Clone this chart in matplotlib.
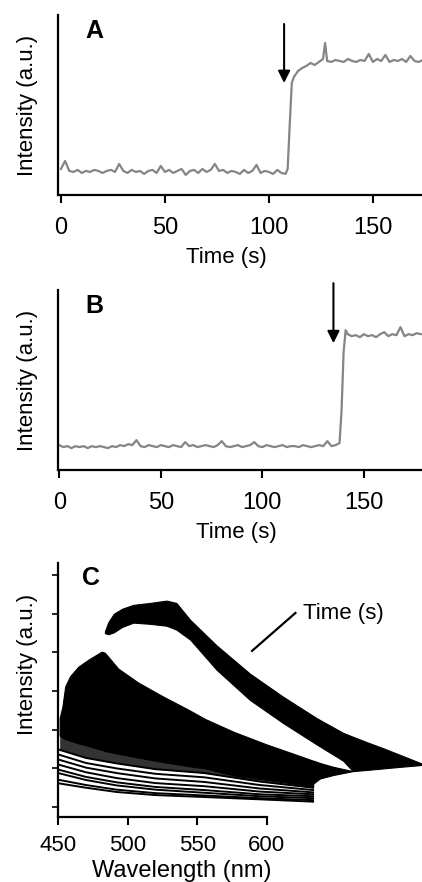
import numpy as np
import matplotlib
matplotlib.use("Agg")
import matplotlib.pyplot as plt

plt.rcParams['font.family'] = ['Liberation Sans', 'DejaVu Sans']

# ---------------------------------------------------------------------------
# Panel A: intensity trace (a.u. = px above the axis)
# ---------------------------------------------------------------------------
time_a = [0, 2, 4, 6, 8, 10, 12, 14, 16, 18, 20, 22, 24, 26, 28, 30, 32, 34,
          36, 38, 40, 42, 44, 46, 48, 50, 52, 54, 56, 58, 60, 62, 64, 66, 68,
          70, 72, 74, 76, 78, 80, 82, 84, 86, 88, 90, 92, 94, 96, 98, 100,
          102, 104, 106, 108, 109, 110, 111, 112, 114, 116, 118, 120, 122,
          124, 126, 127, 128, 130, 132, 134, 136, 138, 140, 142, 144, 146,
          148, 150, 152, 154, 156, 158, 160, 162, 164, 166, 168, 170, 172, 174]
int_a = [26, 34, 24, 23, 25, 22, 24, 23, 25, 24, 22, 24, 25, 23, 31, 24, 22,
         25, 23, 24, 21, 24, 25, 22, 29, 23, 25, 22, 24, 26, 20, 24, 25, 22,
         26, 23, 25, 31, 24, 25, 22, 24, 23, 21, 25, 22, 24, 30, 22, 24, 23,
         21, 25, 22, 21, 26, 70, 112, 118, 124, 127, 129, 132, 130, 133, 136,
         152, 134, 133, 135, 134, 133, 136, 134, 133, 135, 134, 141, 133, 136,
         134, 140, 133, 135, 134, 136, 133, 139, 134, 133, 135]

# Panel B
time_b = [0, 2, 4, 6, 8, 10, 12, 14, 16, 18, 20, 22, 24, 26, 28, 30, 32, 34,
          36, 38, 40, 42, 44, 46, 48, 50, 52, 54, 56, 58, 60, 62, 64, 66, 68,
          70, 72, 74, 76, 78, 80, 82, 84, 86, 88, 90, 92, 94, 96, 98, 100,
          102, 104, 106, 108, 110, 112, 114, 116, 118, 120, 122, 124, 126,
          128, 130, 132, 134, 136, 138, 139, 140, 141, 142, 144, 146, 148,
          150, 152, 154, 156, 158, 160, 162, 164, 166, 168, 170, 172, 174,
          176, 178]
int_b = [25, 23, 24, 22, 24, 23, 24, 22, 24, 23, 24, 23, 22, 24, 23, 25, 24,
         26, 25, 30, 24, 23, 25, 24, 23, 25, 24, 23, 25, 24, 23, 28, 24, 25,
         23, 24, 25, 24, 23, 25, 29, 24, 23, 24, 25, 23, 24, 25, 28, 24, 23,
         25, 24, 23, 24, 25, 23, 24, 24, 23, 25, 24, 23, 24, 25, 24, 29, 24,
         25, 27, 60, 118, 140, 136, 134, 135, 133, 136, 134, 135, 133, 136,
         138, 134, 136, 135, 143, 134, 136, 135, 137, 136]

arrow_a_time, arrow_a_from, arrow_a_to = 107.3, 171, 112
arrow_b_time, arrow_b_from, arrow_b_to = 135, 187, 127

# ---------------------------------------------------------------------------
# Panel C: envelopes of the spectra stack (a.u., tick = 1)
# ---------------------------------------------------------------------------
late_wl = [483.6, 486, 490, 496, 504, 516, 528, 535, 545, 564, 588, 612, 636,
           655, 662, 672, 684, 696, 712]
late_top = [4.55, 4.78, 5.0, 5.13, 5.23, 5.28, 5.34, 5.28, 4.84, 4.18, 3.45,
            2.85, 2.30, 1.92, 1.82, 1.68, 1.52, 1.35, 1.12]
late_bot = [4.50, 4.47, 4.52, 4.66, 4.77, 4.74, 4.69, 4.59, 4.33, 3.55, 2.77,
            2.17, 1.62, 1.20, 0.93, 0.96, 1.00, 1.04, 1.09]

early_wl = [451, 453, 455, 458.4, 464.4, 471.6, 481.2, 483.6, 493.2, 507.6,
            524.4, 543.6, 555.6, 576, 600, 624, 633.4, 633.6, 638.4, 648, 662]
early_top = [2.30, 2.60, 3.12, 3.38, 3.63, 3.81, 4.02, 3.99, 3.58, 3.22, 2.88,
             2.52, 2.28, 1.95, 1.62, 1.32, 1.20, 1.20, 1.14, 1.04, 0.93]
early_bot = [1.85, 1.80, 1.76, 1.72, 1.65, 1.58, 1.48, 1.45, 1.38, 1.28, 1.17,
             1.06, 1.00, 0.82, 0.70, 0.58, 0.52, 0.61, 0.74, 0.83, 0.93]

first_wl = [451, 470, 492, 520, 555, 595, 633.4]
first_spectra = [
    [0.61, 0.50, 0.39, 0.31, 0.26, 0.20, 0.14],
    [0.70, 0.57, 0.45, 0.36, 0.30, 0.23, 0.18],
    [0.87, 0.70, 0.56, 0.45, 0.37, 0.28, 0.23],
    [0.96, 0.78, 0.64, 0.52, 0.44, 0.33, 0.28],
    [1.09, 0.90, 0.75, 0.62, 0.54, 0.40, 0.33],
    [1.22, 1.02, 0.88, 0.74, 0.65, 0.48, 0.38],
    [1.35, 1.14, 1.00, 0.86, 0.77, 0.57, 0.44],
    [1.48, 1.27, 1.13, 0.98, 0.88, 0.66, 0.50],
]
# speckled (partly resolved) zone between the first spectra and the solid block
speckle_top = [1.85, 1.60, 1.40, 1.22, 1.00, 0.72, 0.52]

FS = 16
GREY = '#858585'

fig = plt.figure(figsize=(4.22, 8.82), dpi=100)
ax_a = fig.add_axes([0.138, 0.779, 0.862, 0.204])
ax_b = fig.add_axes([0.138, 0.467, 0.862, 0.204])
ax_c = fig.add_axes([0.138, 0.074, 0.862, 0.288])

for ax in (ax_a, ax_b, ax_c):
    for s in ('top', 'right'):
        ax.spines[s].set_visible(False)
    for s in ('left', 'bottom'):
        ax.spines[s].set_linewidth(1.6)
    ax.tick_params(axis='x', direction='out', length=6, width=1.5,
                   labelsize=17, pad=10)


def trace_panel(ax, t, y, xmin, xmax, arrow, letter, lab_x):
    ax.plot(t, y, color=GREY, lw=1.6)
    ax.set_xlim(xmin, xmax)
    ax.set_ylim(0, 180)
    ax.set_xticks([0, 50, 100, 150])
    ax.set_yticks([])
    ax.set_xlabel('Time (s)', fontsize=FS)
    ax.xaxis.set_label_coords(lab_x, -0.287)
    ax.set_ylabel('Intensity (a.u.)', fontsize=FS)
    ax.yaxis.set_label_coords(-0.056, 0.5)
    at, a0, a1 = arrow
    ax.annotate('', xy=(at, a1), xytext=(at, a0), annotation_clip=False,
                arrowprops=dict(arrowstyle='-|>', color='black', lw=1.5,
                                mutation_scale=18, shrinkA=0, shrinkB=0))
    ax.text(0.098, 0.91, letter, transform=ax.transAxes, fontsize=18,
            fontweight='bold', ha='center', va='center')


trace_panel(ax_a, time_a, int_a, -1.3, 173.6,
            (arrow_a_time, arrow_a_from, arrow_a_to), 'A', 0.463)
trace_panel(ax_b, time_b, int_b, -0.5, 178.6,
            (arrow_b_time, arrow_b_from, arrow_b_to), 'B', 0.491)

# ---- panel C ----
ax_c.fill_between(first_wl, first_spectra[-1], speckle_top, color='#333333',
                  lw=0)
ax_c.fill_between(early_wl, early_bot, early_top, color='black', lw=0.8,
                  edgecolor='black')
ax_c.fill_between(late_wl, late_bot, late_top, color='black', lw=0.8,
                  edgecolor='black')
for spec in first_spectra:
    ax_c.plot(first_wl, spec, color='black', lw=1.4)
ax_c.set_xlim(450, 711.8)
ax_c.set_ylim(-0.25, 6.32)
ax_c.spines['bottom'].set_bounds(450, 600)
ax_c.set_xticks([450, 500, 550, 600])
ax_c.set_yticks(range(7))
ax_c.set_yticklabels([])
ax_c.tick_params(axis='x', labelsize=16, pad=7)
ax_c.tick_params(axis='y', direction='out', length=4, width=1.2)
ax_c.set_xlabel('Wavelength (nm)', fontsize=17)
ax_c.xaxis.set_label_coords(0.339, -0.17)
ax_c.set_ylabel('Intensity (a.u.)', fontsize=FS)
ax_c.yaxis.set_label_coords(-0.056, 0.6)
ax_c.plot([589.5, 620.7], [4.04, 5.02], color='black', lw=1.6)
ax_c.text(626.4, 5.0, 'Time (s)', fontsize=FS, ha='left', va='center')
ax_c.text(0.09, 0.941, 'C', transform=ax_c.transAxes, fontsize=18,
          fontweight='bold', ha='center', va='center')

fig.savefig('out.png', dpi=100)
